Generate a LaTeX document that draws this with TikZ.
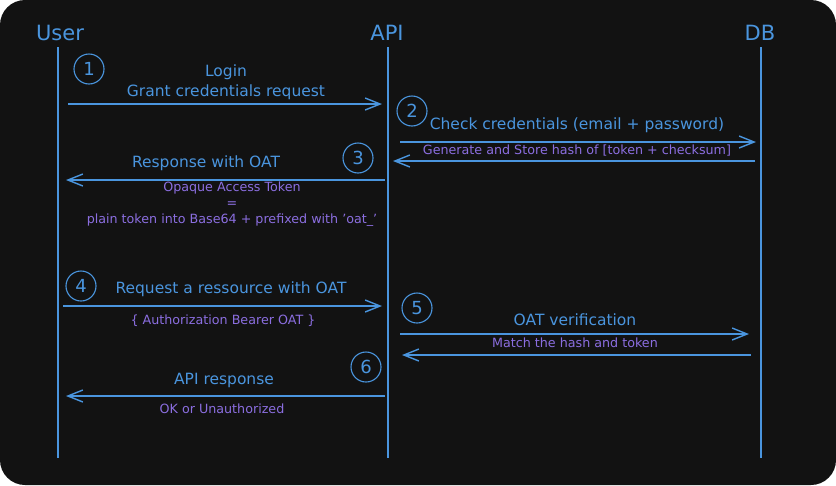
\documentclass[tikz,border=0pt]{standalone}
\usepackage{fontspec}
\setmainfont{DejaVu Sans}
\usetikzlibrary{arrows.meta}
\definecolor{bg}{HTML}{121212}
\definecolor{ln}{HTML}{4A95DE}
\definecolor{pu}{HTML}{8B6EE0}
\begin{document}
\begin{tikzpicture}[x=1pt,y=-1pt,
  life/.style={draw=ln,line width=1.2pt},
  msg/.style={draw=ln,line width=1.4pt,-{Straight Barb[length=15pt,width=12pt,line width=1.4pt]}},
  actor/.style={text=ln,font=\fontsize{21}{24}\selectfont,inner sep=0pt},
  lbl/.style={text=ln,font=\fontsize{15.5}{20}\selectfont,inner sep=0pt,align=center},
  sub/.style={text=pu,font=\fontsize{12.7}{16}\selectfont,inner sep=0pt,align=center},
  num/.style={circle,draw=ln,line width=1.1pt,minimum size=30pt,inner sep=0pt,text=ln,font=\fontsize{18}{20}\selectfont}]
\useasboundingbox (0,0) rectangle (836,485);
\fill[white] (0,0) rectangle (836,485);
\fill[bg,rounded corners=25pt] (0,0) rectangle (836,485);
% actors
\node[actor] (user) at (60,33) {User};
\node[actor] (api) at (387,33) {API};
\node[actor] (db) at (760,33) {DB};
\coordinate (ut) at (58,47); \coordinate (ub) at (58,458);
\coordinate (at) at (388,47); \coordinate (ab) at (388,458);
\coordinate (dt) at (761,47); \coordinate (db2) at (761,458);
\draw[life] (ut) -- (ub);
\draw[life] (at) -- (ab);
\draw[life] (dt) -- (db2);
% step 1
\node[num] (n1) at (89,69) {1};
\coordinate (a1s) at (68,104); \coordinate (a1e) at (382,104);
\draw[msg] (a1s) -- (a1e);
\node[lbl] (l1) at (226,82) {Login\\Grant credentials request};
% step 2
\node[num] (n2) at (412,111) {2};
\coordinate (a2s) at (400,142); \coordinate (a2e) at (756,142);
\draw[msg] (a2s) -- (a2e);
\node[lbl] (l2) at (577,125) {Check credentials (email + password)};
\coordinate (a2bs) at (755,161); \coordinate (a2be) at (393,161);
\draw[msg] (a2bs) -- (a2be);
\node[sub] (s2) at (577,151) {Generate and Store hash of [token + checksum]};
% step 3
\node[num] (n3) at (358,158) {3};
\coordinate (a3s) at (385,180); \coordinate (a3e) at (66,180);
\draw[msg] (a3s) -- (a3e);
\node[lbl] (l3) at (206,163) {Response with OAT};
\node[sub] (s3) at (232,204) {Opaque Access Token\\=\\plain token into Base64 + prefixed with 'oat\_'};
% step 4
\node[num] (n4) at (81,286) {4};
\coordinate (a4s) at (63,306); \coordinate (a4e) at (382,306);
\draw[msg] (a4s) -- (a4e);
\node[lbl] (l4) at (231,289) {Request a ressource with OAT};
\node[sub] (s4) at (223,321) {\{ Authorization Bearer OAT \}};
% step 5
\node[num] (n5) at (417,308) {5};
\coordinate (a5s) at (400,334); \coordinate (a5e) at (749,334);
\draw[msg] (a5s) -- (a5e);
\node[lbl] (l5) at (575,320) {OAT verification};
\coordinate (a5bs) at (751,355); \coordinate (a5be) at (402,355);
\draw[msg] (a5bs) -- (a5be);
\node[sub] (s5) at (575,343) {Match the hash and token};
% step 6
\node[num] (n6) at (366,367) {6};
\coordinate (a6s) at (385,396); \coordinate (a6e) at (66,396);
\draw[msg] (a6s) -- (a6e);
\node[lbl] (l6) at (224,380) {API response};
\node[sub] (s6) at (222,409) {OK or Unauthorized};
\end{tikzpicture}
\end{document}
